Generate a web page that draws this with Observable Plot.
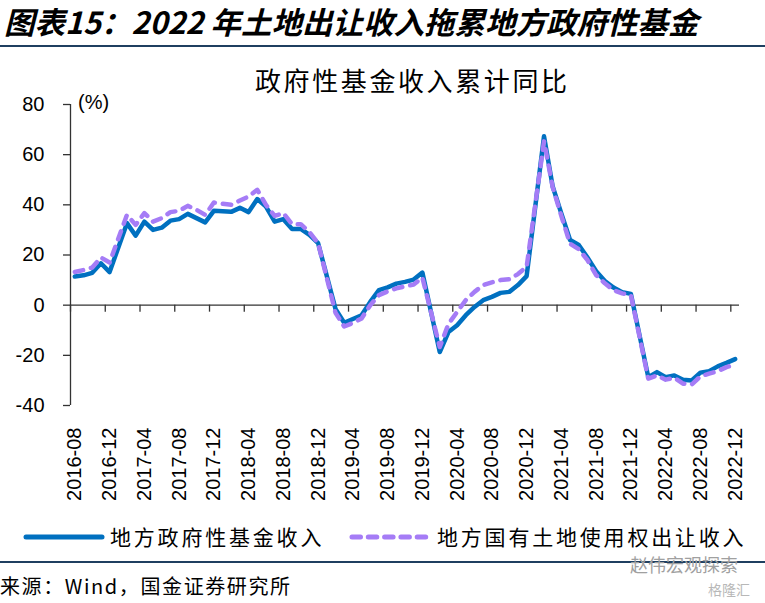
<!DOCTYPE html>
<html><head><meta charset="utf-8">
<script src="https://cdn.jsdelivr.net/npm/d3@7"></script>
<script src="https://cdn.jsdelivr.net/npm/@observablehq/plot@0.6"></script>
<style>
html,body{margin:0;padding:0;background:#fff;}
body{width:765px;height:603px;position:relative;overflow:hidden;font-family:"Noto Sans CJK SC",sans-serif;color:#000;}
.abs{position:absolute;white-space:nowrap;line-height:1;}
#chart{position:absolute;left:0;top:90px;}
</style></head><body>
<div class="abs" style="left:4px;top:6px;font-size:30.5px;font-weight:bold;font-style:italic;">图表15：2022 年土地出让收入拖累地方政府性基金</div>
<div class="abs" style="left:0;top:45px;width:765px;height:2px;background:#1f3f60"></div>
<div class="abs" style="left:255px;top:67px;font-size:26px;letter-spacing:2.6px;">政府性基金收入累计同比</div>
<div class="abs" style="left:78px;top:92px;font-size:20px;font-family:'Liberation Sans',Arial,sans-serif;">(%)</div>
<div id="chart"></div>
<svg class="abs" style="left:0;top:525px" width="765" height="24">
  <line x1="26" x2="102" y1="12" y2="12" stroke="#0070C0" stroke-width="5" stroke-linecap="round"/>
  <line x1="352" x2="430" y1="12" y2="12" stroke="#A57CF6" stroke-width="5" stroke-linecap="round" stroke-dasharray="8.5 7.8"/>
</svg>
<div class="abs" id="lg1" style="left:110px;top:526px;font-size:21px;letter-spacing:2.8px;"></div>
<div class="abs" id="lg2" style="left:437px;top:526px;font-size:21px;letter-spacing:2.8px;"></div>
<div class="abs" style="left:0;top:561px;width:765px;height:2px;background:#1f3f60"></div>
<div class="abs" style="left:0;top:576px;font-size:20px;letter-spacing:1.6px;">来源：Wind，国金证券研究所</div>
<div class="abs" style="left:630px;top:555px;font-size:18px;color:#a0a0a0;">赵伟宏观探索</div>
<div class="abs" style="left:708px;top:582px;font-size:14px;color:#b8b8b8;">格隆汇</div>
<script>
// ---- data (January is not published: Jan-Feb combined) ----
const months = [
 "2016-08","2016-09","2016-10","2016-11","2016-12",
 "2017-02","2017-03","2017-04","2017-05","2017-06","2017-07","2017-08","2017-09","2017-10","2017-11","2017-12",
 "2018-02","2018-03","2018-04","2018-05","2018-06","2018-07","2018-08","2018-09","2018-10","2018-11","2018-12",
 "2019-02","2019-03","2019-04","2019-05","2019-06","2019-07","2019-08","2019-09","2019-10","2019-11","2019-12",
 "2020-02","2020-03","2020-04","2020-05","2020-06","2020-07","2020-08","2020-09","2020-10","2020-11","2020-12",
 "2021-02","2021-03","2021-04","2021-05","2021-06","2021-07","2021-08","2021-09","2021-10","2021-11","2021-12",
 "2022-02","2022-03","2022-04","2022-05","2022-06","2022-07","2022-08","2022-09","2022-10","2022-11","2022-12"
];
const fundIncome = [
 11.4, 11.9, 12.9, 16.7, 13.2,
 32.7, 27.7, 33.3, 30.0, 30.9, 33.7, 34.3, 36.4, 34.7, 33.0, 37.6,
 37.2, 38.8, 37.1, 42.3, 39.3, 33.3, 34.3, 30.4, 30.4, 28.0, 24.7,
 -1.5, -7.0, -5.5, -4.0, 1.3, 6.0, 7.1, 8.6, 9.3, 10.2, 13.0,
 -18.7, -10.7, -8.0, -4.0, -0.7, 2.0, 3.3, 4.9, 5.3, 8.0, 11.6,
 67.3, 47.3, 36.5, 26.0, 24.0, 19.0, 13.5, 9.6, 7.0, 5.2, 4.5,
 -28.7, -26.7, -28.7, -28.0, -29.7, -30.0, -26.9, -26.3, -24.4, -23.0, -21.5
];
const landIncome = [
 13.2, 14.0, 15.0, 19.0, 17.0,
 36.0, 32.0, 36.7, 33.3, 34.7, 37.1, 37.6, 39.6, 38.0, 36.0, 40.9,
 40.0, 41.7, 43.3, 46.0, 40.0, 35.6, 36.7, 32.3, 32.3, 29.1, 24.7,
 -3.0, -8.5, -7.1, -5.3, 0.0, 4.0, 5.5, 6.7, 7.5, 8.2, 11.0,
 -16.7, -7.5, -2.7, 2.0, 5.3, 8.0, 9.1, 10.0, 10.3, 12.4, 15.3,
 65.3, 47.0, 35.5, 24.5, 22.3, 18.0, 12.0, 8.7, 6.0, 4.7, 4.0,
 -29.3, -28.0, -29.7, -28.9, -31.3, -31.6, -28.4, -27.3, -26.3, -24.7, -23.6
];
const tickMonths = ["2016-08","2016-12","2017-04","2017-08","2017-12","2018-04","2018-08","2018-12",
 "2019-04","2019-08","2019-12","2020-04","2020-08","2020-12","2021-04","2021-08","2021-12",
 "2022-04","2022-08","2022-12"];
const yTicks = [-40, -20, 0, 20, 40, 60, 80];
const seriesNames = ["地方政府性基金收入", "地方国有土地使用权出让收入"];
const firstMonth = "2016-08", lastMonth = "2022-12";

// ---- build ----
document.getElementById("lg1").textContent = seriesNames[0];
document.getElementById("lg2").textContent = seriesNames[1];

const mIndex = m => { const [y, mo] = m.split("-").map(Number); const [y0, m0] = firstMonth.split("-").map(Number); return (y - y0) * 12 + (mo - m0); };
const nSlots = mIndex(lastMonth) + 1;
const rows = months.map((m, i) => ({m, k: mIndex(m) + 0.5, fund: fundIncome[i], land: landIncome[i]}));
const tickIdx = tickMonths.map(mIndex);
const labelPos = new Map(tickMonths.map(m => [mIndex(m) + 0.5, m]));

const axisColor = "#333";
const chart = Plot.plot({
  width: 765, height: 420,
  marginLeft: 70, marginRight: 26, marginTop: 14, marginBottom: 105,
  style: {fontFamily: "'Liberation Sans', Arial, sans-serif", background: "transparent", color: "#000"},
  x: {type: "linear", domain: [0, nSlots]},
  y: {domain: [-40, 80]},
  marks: [
    Plot.axisY({ticks: yTicks, tickSize: 7, tickPadding: 19, fontSize: 20, stroke: axisColor, strokeWidth: 1.3, tickFormat: d => String(d), label: null}),
    Plot.axisX({ticks: [...labelPos.keys()], tickSize: 0, tickPadding: 22, tickRotate: -90, fontSize: 20, tickFormat: d => labelPos.get(d), label: null}),
    Plot.ruleX([0], {stroke: axisColor, strokeWidth: 1.3}),
    Plot.ruleY([0], {stroke: axisColor, strokeWidth: 1.3}),
    Plot.ruleX(tickIdx, {x: d => d, y1: 0, y2: 0, insetBottom: -7, stroke: axisColor, strokeWidth: 1.3}),
    Plot.line(rows, {x: "k", y: "fund", stroke: "#0070C0", strokeWidth: 4.5, strokeLinejoin: "round", strokeLinecap: "round"}),
    Plot.line(rows, {x: "k", y: "land", stroke: "#A57CF6", strokeWidth: 4.5, strokeDasharray: "8.5 8", strokeLinecap: "round", strokeLinejoin: "round"})
  ]
});
document.getElementById("chart").appendChild(chart);
</script>
</body></html>
